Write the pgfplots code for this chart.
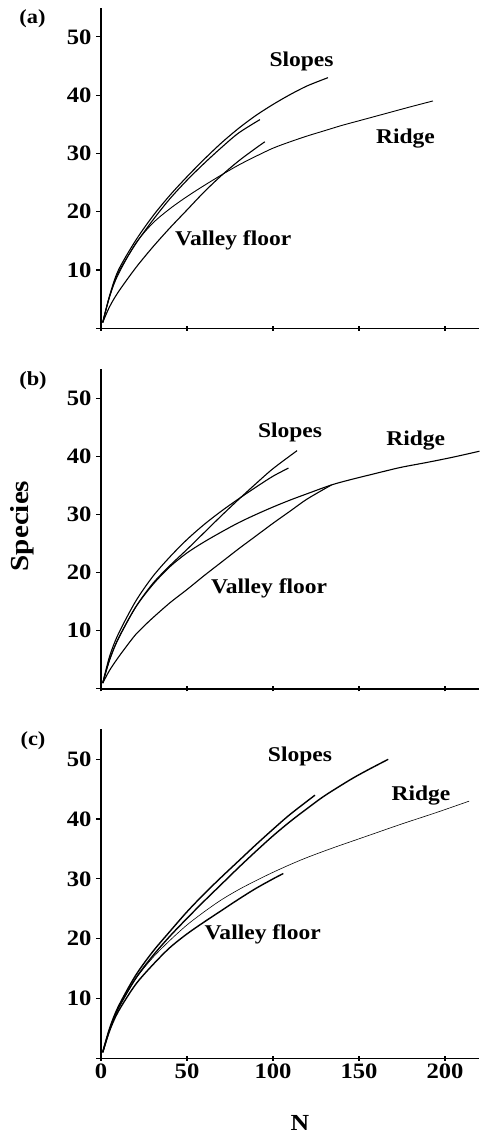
\documentclass[border=0pt]{standalone}
\usepackage{fontspec}
\setmainfont{Liberation Serif}[FakeStretch=1.12]
\usepackage{pgfplots}
\pgfplotsset{compat=1.18}

\pgfplotsset{
  rare/.style={
    scale only axis, width=378.4pt, anchor=south west,
    xmin=0, xmax=220, ymin=0, ymax=55,
    axis x line*=bottom, axis y line*=left,
    axis line style={line width=1.5pt, -},
    xtick={0,50,100,150,200},
    ytick={0,10,20,30,40,50},
    yticklabels={,10,20,30,40,50},
    xtick align=center, ytick align=outside,
    major tick length=5pt,
    every tick/.style={line width=1.2pt, black},
    tick label style={font=\fontsize{22}{22}\selectfont\bfseries},
    yticklabel style={xshift=-1pt},
    clip=false,
  },
  crv/.style={black, line width=1.1pt, smooth, no markers},
}
\tikzset{lab/.style={font=\fontsize{21}{21}\selectfont\bfseries}}

\begin{document}
\begin{tikzpicture}
\path[use as bounding box] (0,0) rectangle (483pt,1134pt);

% (a)
\begin{axis}[rare, height=320.6pt, at={(101pt,805.7pt)}, xticklabels={}]
% slopes, longer
\addplot[crv] coordinates {(1,1)(5,5.6)(10,9.9)(20,15)(30,19.2)(40,22.8)(50,26)(60,29)(70,31.8)(80,34.3)(90,36.5)(100,38.4)(110,40.1)(120,41.6)(132,43)};
% slopes, shorter
\addplot[crv] coordinates {(1,1)(5,5.4)(10,9.5)(20,14.4)(30,18.5)(40,22.2)(50,25.4)(60,28.3)(70,31)(80,33.5)(92.4,35.8)};
% valley floor
\addplot[crv] coordinates {(1,1)(5,3.7)(10,6.2)(20,10.3)(30,13.9)(40,17.2)(50,20.3)(60,23.4)(70,26.2)(80,28.7)(90,30.9)(95.3,32)};
% ridge
\addplot[crv, line width=0.9pt] coordinates {(1,1)(5,5.5)(10,9.2)(20,14.5)(30,18)(40,20.5)(50,22.6)(60,24.5)(70,26.3)(80,28)(90,29.5)(100,30.9)(110,32)(120,33)(130,33.9)(140,34.8)(150,35.6)(160,36.4)(170,37.2)(180,38)(193,39)};
\node[lab] at (axis cs:116.6,45.7) {Slopes};
\node[lab] at (axis cs:177,32.6) {Ridge};
\node[lab] at (axis cs:76.9,15.0) {Valley floor};
\end{axis}

% (b)
\begin{axis}[rare, height=319.6pt, at={(101pt,445.1pt)}, xticklabels={}]
\addplot[crv] coordinates {(1,1)(5,5)(10,8.6)(20,14)(30,18.1)(40,21.2)(50,24)(60,26.9)(70,29.8)(80,32.6)(90,35.3)(100,37.9)(114,41)};
\addplot[crv] coordinates {(1,1)(5,5.6)(10,9.4)(20,15)(30,19.3)(40,22.7)(50,25.7)(60,28.3)(70,30.6)(80,32.7)(90,34.7)(100,36.6)(109,38)};
\addplot[crv] coordinates {(1,1)(5,3.2)(10,5.4)(15,7.4)(20,9.3)(25,10.8)(30,12.2)(40,14.8)(50,17.1)(60,19.5)(70,21.8)(80,24.1)(90,26.3)(100,28.5)(110,30.6)(120,32.7)(134,35.1)};
\addplot[crv] coordinates {(1,1)(5,5)(10,8.6)(20,14)(30,17.9)(40,21)(50,23.4)(60,25.3)(70,27)(80,28.6)(90,30)(100,31.3)(110,32.5)(120,33.6)(134,35.1)(145,36)(160,37.1)(174,38.1)(190,39)(205,39.9)(220,40.9)};
\node[lab] at (axis cs:109.9,44.1) {Slopes};
\node[lab] at (axis cs:183,42.7) {Ridge};
\node[lab] at (axis cs:97.7,17.3) {Valley floor};
\end{axis}

% (c)
\begin{axis}[rare, height=328.9pt, at={(101pt,75.7pt)}, xticklabels={0,50,100,150,200}]
\addplot[crv, line width=1.4pt] coordinates {(1,1)(5,5)(10,8.6)(20,13.8)(30,17.8)(40,21.2)(50,24.5)(60,27.5)(70,30.3)(80,33)(90,35.7)(100,38.3)(110,40.8)(124.4,44)};
\addplot[crv, line width=1.4pt] coordinates {(1,1)(5,4.8)(10,8.3)(20,13.3)(30,17.1)(40,20.4)(50,23.4)(60,26.3)(70,29.1)(80,31.9)(90,34.6)(100,37.2)(110,39.6)(120,41.8)(130,43.9)(145,46.6)(155,48.2)(167,50)};
\addplot[crv, line width=1.4pt] coordinates {(1,1)(5,4.6)(10,7.8)(20,12.3)(30,15.6)(40,18.5)(50,20.8)(60,22.8)(70,24.7)(80,26.6)(90,28.4)(100,30)(106,30.9)};
\addplot[crv, line width=0.6pt] coordinates {(1,1)(5,4.8)(10,8.3)(20,13.2)(30,16.8)(40,19.7)(50,22.3)(60,24.5)(70,26.5)(80,28.2)(90,29.7)(100,31.1)(110,32.4)(120,33.6)(135,35.2)(155,37.2)(175,39.2)(195,41.1)(214,43)};
\node[lab] at (axis cs:115.7,50.4) {Slopes};
\node[lab] at (axis cs:186,44.0) {Ridge};
\node[lab] at (axis cs:94,20.7) {Valley floor};
\end{axis}

\node[font=\fontsize{20}{20}\selectfont\bfseries] at (32.5pt,1115pt) {(a)};
\node[font=\fontsize{20}{20}\selectfont\bfseries] at (33pt,753pt) {(b)};
\node[font=\fontsize{20}{20}\selectfont\bfseries] at (33pt,393.5pt) {(c)};
\node[font=\fontsize{26}{26}\selectfont\bfseries, rotate=90] at (22pt,608pt) {Species};
\node[font=\fontsize{23}{23}\selectfont\bfseries, anchor=base, inner sep=0pt] at (300pt,4pt) {N};
\end{tikzpicture}
\end{document}
